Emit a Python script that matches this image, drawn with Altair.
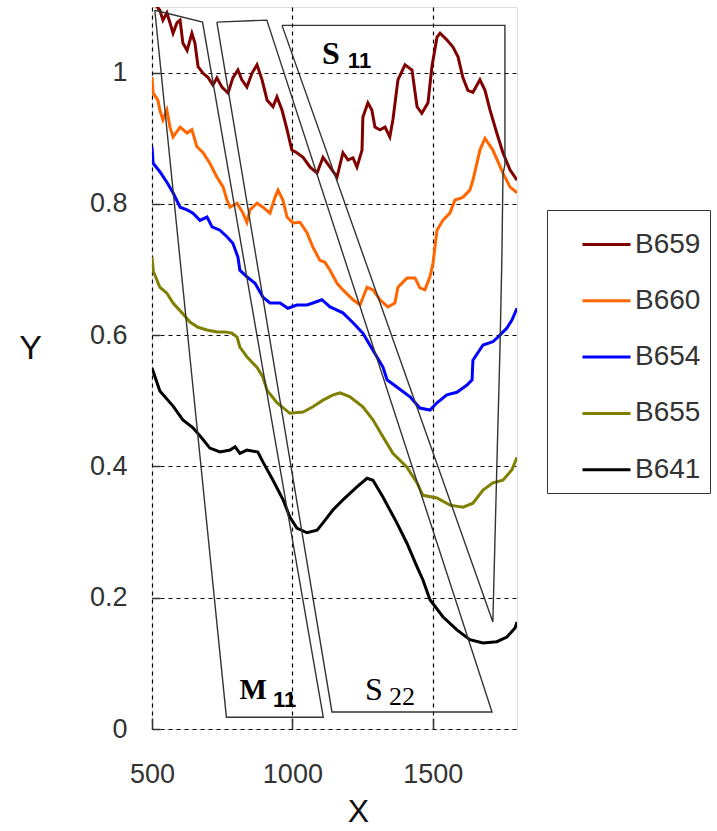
import altair as alt
import pandas as pd

# ---- spectra (X vs Y) ----
series_names = ["B659", "B660", "B654", "B655", "B641"]
series_colors = ["#800000", "#FF6600", "#0000FF", "#808000", "#000000"]

b659_x = [500, 528, 539, 553, 564, 575, 589, 600, 610, 625, 642, 653, 664, 682, 699, 717, 731, 749, 771,
          788, 806, 820, 838, 856, 874, 892, 910, 931, 945, 963, 981, 998, 1016, 1038, 1063, 1088, 1109,
          1134, 1159, 1180, 1198, 1216, 1230, 1248, 1251, 1269, 1283, 1294, 1312, 1330, 1347, 1358, 1376,
          1401, 1426, 1444, 1461, 1483, 1497, 1515, 1526, 1550, 1572, 1590, 1607, 1625, 1643, 1668, 1686,
          1704, 1728, 1750, 1775, 1800]
b659_y = [1.110, 1.095, 1.080, 1.091, 1.076, 1.060, 1.076, 1.080, 1.045, 1.034, 1.060, 1.045, 1.009, 0.999,
          0.993, 0.981, 0.992, 0.978, 0.969, 0.992, 1.004, 0.989, 0.978, 0.999, 1.012, 0.989, 0.958, 0.948,
          0.963, 0.943, 0.913, 0.882, 0.878, 0.871, 0.856, 0.847, 0.871, 0.856, 0.841, 0.878, 0.867, 0.870,
          0.856, 0.882, 0.932, 0.954, 0.943, 0.917, 0.913, 0.917, 0.902, 0.928, 0.989, 1.012, 1.004, 0.948,
          0.938, 0.954, 1.009, 1.054, 1.060, 1.050, 1.039, 1.024, 0.993, 0.973, 0.970, 0.989, 0.973, 0.943,
          0.908, 0.878, 0.852, 0.836]

b660_x = [500, 504, 521, 528, 539, 553, 564, 575, 600, 625, 642, 660, 682, 706, 731, 753, 767, 778, 803,
          824, 838, 849, 874, 895, 920, 938, 949, 966, 981, 1002, 1027, 1052, 1073, 1098, 1116, 1134, 1159,
          1180, 1216, 1241, 1266, 1287, 1312, 1340, 1365, 1376, 1408, 1437, 1454, 1472, 1490, 1501, 1515,
          1536, 1561, 1579, 1607, 1632, 1643, 1668, 1686, 1714, 1750, 1775, 1800]
b660_y = [0.993, 0.969, 0.958, 0.943, 0.928, 0.943, 0.917, 0.902, 0.917, 0.908, 0.913, 0.887, 0.878, 0.862,
          0.841, 0.826, 0.806, 0.795, 0.801, 0.786, 0.772, 0.791, 0.801, 0.795, 0.786, 0.810, 0.821, 0.806,
          0.780, 0.771, 0.772, 0.756, 0.734, 0.714, 0.711, 0.699, 0.679, 0.669, 0.654, 0.646, 0.673, 0.669,
          0.654, 0.643, 0.649, 0.673, 0.687, 0.687, 0.672, 0.669, 0.689, 0.710, 0.760, 0.775, 0.786, 0.806,
          0.810, 0.821, 0.836, 0.882, 0.900, 0.882, 0.847, 0.826, 0.817]

b654_x = [500, 504, 528, 553, 575, 600, 625, 646, 671, 696, 714, 742, 767, 788, 806, 813, 838, 867, 895,
          920, 956, 984, 1016, 1052, 1073, 1105, 1134, 1180, 1216, 1251, 1287, 1323, 1337, 1372, 1419, 1454,
          1490, 1515, 1550, 1586, 1622, 1640, 1643, 1679, 1714, 1732, 1764, 1782, 1800]
b654_y = [0.887, 0.862, 0.849, 0.833, 0.817, 0.795, 0.791, 0.786, 0.775, 0.780, 0.765, 0.760, 0.750, 0.740,
          0.719, 0.699, 0.689, 0.679, 0.658, 0.649, 0.649, 0.641, 0.646, 0.646, 0.649, 0.654, 0.643, 0.634,
          0.619, 0.603, 0.577, 0.551, 0.532, 0.521, 0.506, 0.489, 0.486, 0.497, 0.509, 0.513, 0.524, 0.532,
          0.562, 0.585, 0.590, 0.597, 0.611, 0.623, 0.641]

b655_x = [500, 505, 528, 553, 575, 607, 635, 664, 696, 731, 760, 785, 803, 813, 838, 874, 895, 910, 945,
          991, 1038, 1073, 1109, 1145, 1170, 1205, 1251, 1287, 1323, 1358, 1408, 1444, 1465, 1515, 1561,
          1608, 1643, 1679, 1714, 1750, 1782, 1800]
b655_y = [0.719, 0.697, 0.673, 0.664, 0.649, 0.634, 0.620, 0.612, 0.608, 0.605, 0.605, 0.603, 0.597, 0.582,
          0.567, 0.551, 0.536, 0.516, 0.497, 0.481, 0.483, 0.491, 0.501, 0.509, 0.512, 0.506, 0.491, 0.471,
          0.445, 0.420, 0.399, 0.375, 0.356, 0.352, 0.341, 0.338, 0.344, 0.364, 0.375, 0.379, 0.395, 0.414]

b641_x = [500, 528, 575, 610, 646, 678, 706, 742, 778, 796, 813, 838, 877, 895, 931, 967, 991, 1016, 1052,
          1088, 1109, 1145, 1180, 1230, 1266, 1287, 1323, 1372, 1408, 1444, 1465, 1490, 1536, 1586, 1632,
          1679, 1728, 1764, 1793, 1800]
b641_y = [0.550, 0.515, 0.492, 0.471, 0.459, 0.443, 0.428, 0.422, 0.425, 0.430, 0.420, 0.425, 0.422, 0.407,
          0.379, 0.349, 0.323, 0.306, 0.299, 0.303, 0.314, 0.334, 0.349, 0.369, 0.382, 0.379, 0.353, 0.314,
          0.283, 0.247, 0.227, 0.197, 0.171, 0.151, 0.136, 0.131, 0.133, 0.140, 0.154, 0.163]

# ---- outlined regions ----
m11_x = [510, 680, 1110, 765, 510]
m11_y = [1.095, 1.077, 0.018, 0.018, 1.095]
s22_x = [731, 909, 1711, 1141, 731]
s22_y = [1.077, 1.080, 0.026, 0.026, 1.077]
s11_x = [963, 1757, 1757, 1750, 1746, 1739, 1730, 1714, 963]
s11_y = [1.072, 1.072, 0.860, 0.845, 0.715, 0.573, 0.430, 0.163, 1.072]

# region labels: (text, x, y, font, size, weight)
region_labels = [
    ("S", 1137, 1.028, "Liberation Serif", 32, "bold"),
    ("11", 1239, 1.017, "Liberation Sans", 22, "bold"),
    ("M", 860, 0.059, "Liberation Serif", 29, "bold"),
    ("11", 972, 0.044, "Liberation Sans", 22, "bold"),
    ("S", 1290, 0.059, "Liberation Serif", 32, "normal"),
    ("22", 1390, 0.049, "Liberation Serif", 26, "normal"),
]

rows = []
for name, xs, ys in zip(series_names,
                        [b659_x, b660_x, b654_x, b655_x, b641_x],
                        [b659_y, b660_y, b654_y, b655_y, b641_y]):
    for i, (xv, yv) in enumerate(zip(xs, ys)):
        rows.append({"series": name, "i": i, "x": xv, "y": yv})
curves = pd.DataFrame(rows)

prow = []
for name, xs, ys in [("M11", m11_x, m11_y), ("S22", s22_x, s22_y), ("S11", s11_x, s11_y)]:
    for i, (xv, yv) in enumerate(zip(xs, ys)):
        prow.append({"region": name, "i": i, "x": xv, "y": yv})
regions = pd.DataFrame(prow)

x_scale = alt.Scale(domain=[500, 1800], nice=False, zero=False)
y_scale = alt.Scale(domain=[0, 1.1], nice=False)

x_axis = alt.Axis(values=[500, 1000, 1500], format="d", labelFlush=False, grid=True, gridDash=[4, 4],
                  gridColor="#000000", gridWidth=1.2, gridOpacity=1, domain=False, ticks=True,
                  tickSize=11, offset=-11, tickColor="#333333", tickWidth=1.5, labelPadding=32,
                  labelFontSize=27, labelFont="Liberation Sans", labelColor="#333333", title="X",
                  titleX=206, titleFontSize=32, titleFont="Liberation Sans", titleFontWeight="normal",
                  titleColor="#111111", titlePadding=9)
y_axis = alt.Axis(values=[0, 0.2, 0.4, 0.6, 0.8, 1.0], format="~g", labelFlush=False, grid=True,
                  gridDash=[4, 4], gridColor="#000000", gridWidth=1.2, gridOpacity=1, domain=False,
                  ticks=True, tickSize=8, offset=-8, tickColor="#333333", tickWidth=1.5,
                  labelPadding=25, labelFontSize=27, labelFont="Liberation Sans",
                  labelColor="#333333", labelBaseline="middle", title="Y", titleAngle=0,
                  titleAlign="center", titleBaseline="middle", titleX=-130, titleY=341,
                  titleFontSize=34, titleFont="Liberation Sans", titleFontWeight="normal",
                  titleColor="#111111")

lines = alt.Chart(curves).mark_line(strokeWidth=3, clip=True).encode(
    x=alt.X("x:Q", scale=x_scale, axis=x_axis),
    y=alt.Y("y:Q", scale=y_scale, axis=y_axis),
    color=alt.Color("series:N",
                    scale=alt.Scale(domain=series_names, range=series_colors),
                    sort=series_names,
                    legend=alt.Legend(title=None, orient="none", legendX=395, legendY=203,
                                      strokeColor="#333333", padding=9, symbolType="stroke",
                                      symbolSize=2304, symbolStrokeWidth=3, symbolOffset=25,
                                      labelOffset=3, labelFontSize=28, labelFont="Liberation Sans",
                                      labelColor="#333333", rowPadding=16.3,
                                      labelExpr="datum.label + '    '")),
    detail="series:N",
    order="i:Q",
)

outlines = alt.Chart(regions).mark_line(color="#333333", strokeWidth=1.4, clip=True).encode(
    x=alt.X("x:Q", scale=x_scale),
    y=alt.Y("y:Q", scale=y_scale),
    detail="region:N",
    order="i:Q",
)

labels_df = pd.DataFrame(region_labels, columns=["text", "x", "y", "font", "size", "weight"])
text_layers = []
for _, r in labels_df.iterrows():
    text_layers.append(
        alt.Chart(pd.DataFrame([r])).mark_text(font=r["font"], fontSize=int(r["size"]),
                                              fontWeight=r["weight"], color="#000000",
                                              align="center", baseline="middle").encode(
            x=alt.X("x:Q", scale=x_scale),
            y=alt.Y("y:Q", scale=y_scale),
            text="text:N",
        )
    )

chart = alt.layer(lines, outlines, *text_layers).properties(
    width=365, height=722,
    padding={"left": 152, "top": 7, "right": 200, "bottom": 102},
    autosize="none",
).configure_view(stroke="#333333", strokeWidth=2).configure(background="white")

chart.save("out.html", embed_options={"renderer": "svg", "actions": False})
